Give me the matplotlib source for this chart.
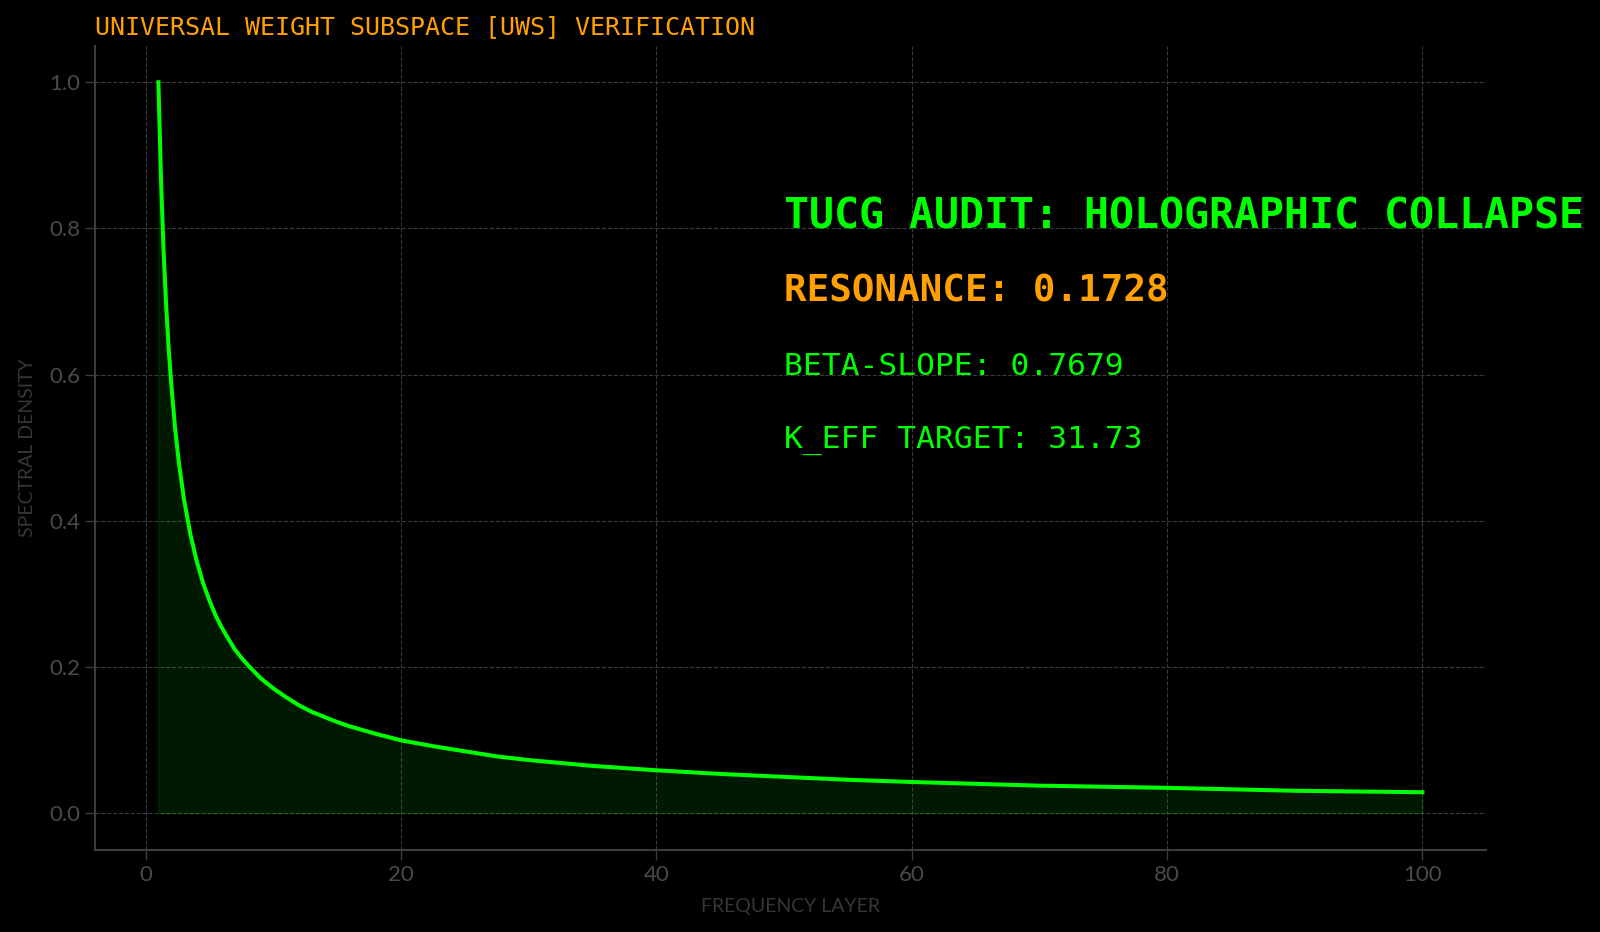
import matplotlib
matplotlib.use("Agg")
import matplotlib.pyplot as plt

# Data
layer = [1, 1.2, 1.4, 1.6, 1.8, 2, 2.3, 2.6, 3, 3.5, 4, 4.5, 5, 5.5, 6, 6.5, 7,
         7.5, 8, 9, 10, 11, 12, 13, 14, 15, 16, 18, 20, 22.5, 25, 27.5, 30, 35,
         40, 45, 50, 55, 60, 70, 80, 90, 100]
density = [1.000, 0.870, 0.772, 0.697, 0.637, 0.589, 0.528, 0.480, 0.430, 0.382,
           0.345, 0.315, 0.291, 0.270, 0.253, 0.238, 0.224, 0.213, 0.203, 0.185,
           0.171, 0.159, 0.148, 0.139, 0.132, 0.125, 0.119, 0.109, 0.100, 0.092,
           0.085, 0.078, 0.073, 0.065, 0.059, 0.054, 0.050, 0.046, 0.043, 0.038,
           0.035, 0.031, 0.029]

title = "UNIVERSAL WEIGHT SUBSPACE [UWS] VERIFICATION"
annotations = [
    ("TUCG AUDIT: HOLOGRAPHIC COLLAPSE", 0.8, "#00FF00", 30, "bold"),
    ("RESONANCE: 0.1728", 0.7, "#FFA000", 27, "bold"),
    ("BETA-SLOPE: 0.7679", 0.6, "#00FF00", 22.5, "normal"),
    ("K_EFF TARGET: 31.73", 0.5, "#00FF00", 22.5, "normal"),
]
text_x = 50

GREEN = "#00FF00"
ORANGE = "#FFA000"
sans = ["Lato", "DejaVu Sans"]
mono = ["DejaVu Sans Mono"]

fig = plt.figure(figsize=(16, 9.32), dpi=100, facecolor="black")
ax = fig.add_axes([0.0595, 0.088, 0.869, 0.863], facecolor="black")

ax.fill_between(layer, density, 0, color=GREEN, alpha=0.1, linewidth=1)
ax.plot(layer, density, color=GREEN, linewidth=2.9, zorder=3,
        solid_joinstyle="round")

for txt, y, col, size, weight in annotations:
    ax.text(text_x, y, txt, color=col, fontsize=size, fontweight=weight,
            family=mono, va="baseline", ha="left", clip_on=False, zorder=4)

ax.grid(True, color="#3a3a3a", linestyle="--", linewidth=0.8)
ax.set_axisbelow(True)
for s in ["top", "right"]:
    ax.spines[s].set_visible(False)
for s in ["left", "bottom"]:
    ax.spines[s].set_color("#3c3c3c")
    ax.spines[s].set_linewidth(1.5)
ax.tick_params(colors="#3c3c3c", labelcolor="#4a4a4a", labelsize=16, length=7, width=1)
for lab in ax.get_xticklabels() + ax.get_yticklabels():
    lab.set_family(sans)

ax.set_xlabel("FREQUENCY LAYER", color="#363636", fontsize=14, family=sans, labelpad=10)
ax.set_ylabel("SPECTRAL DENSITY", color="#363636", fontsize=14, family=sans, labelpad=10)
ax.set_title(title, loc="left", color=ORANGE, fontsize=18, family=mono, pad=8)

fig.savefig("out.png", dpi=100, facecolor="black")
